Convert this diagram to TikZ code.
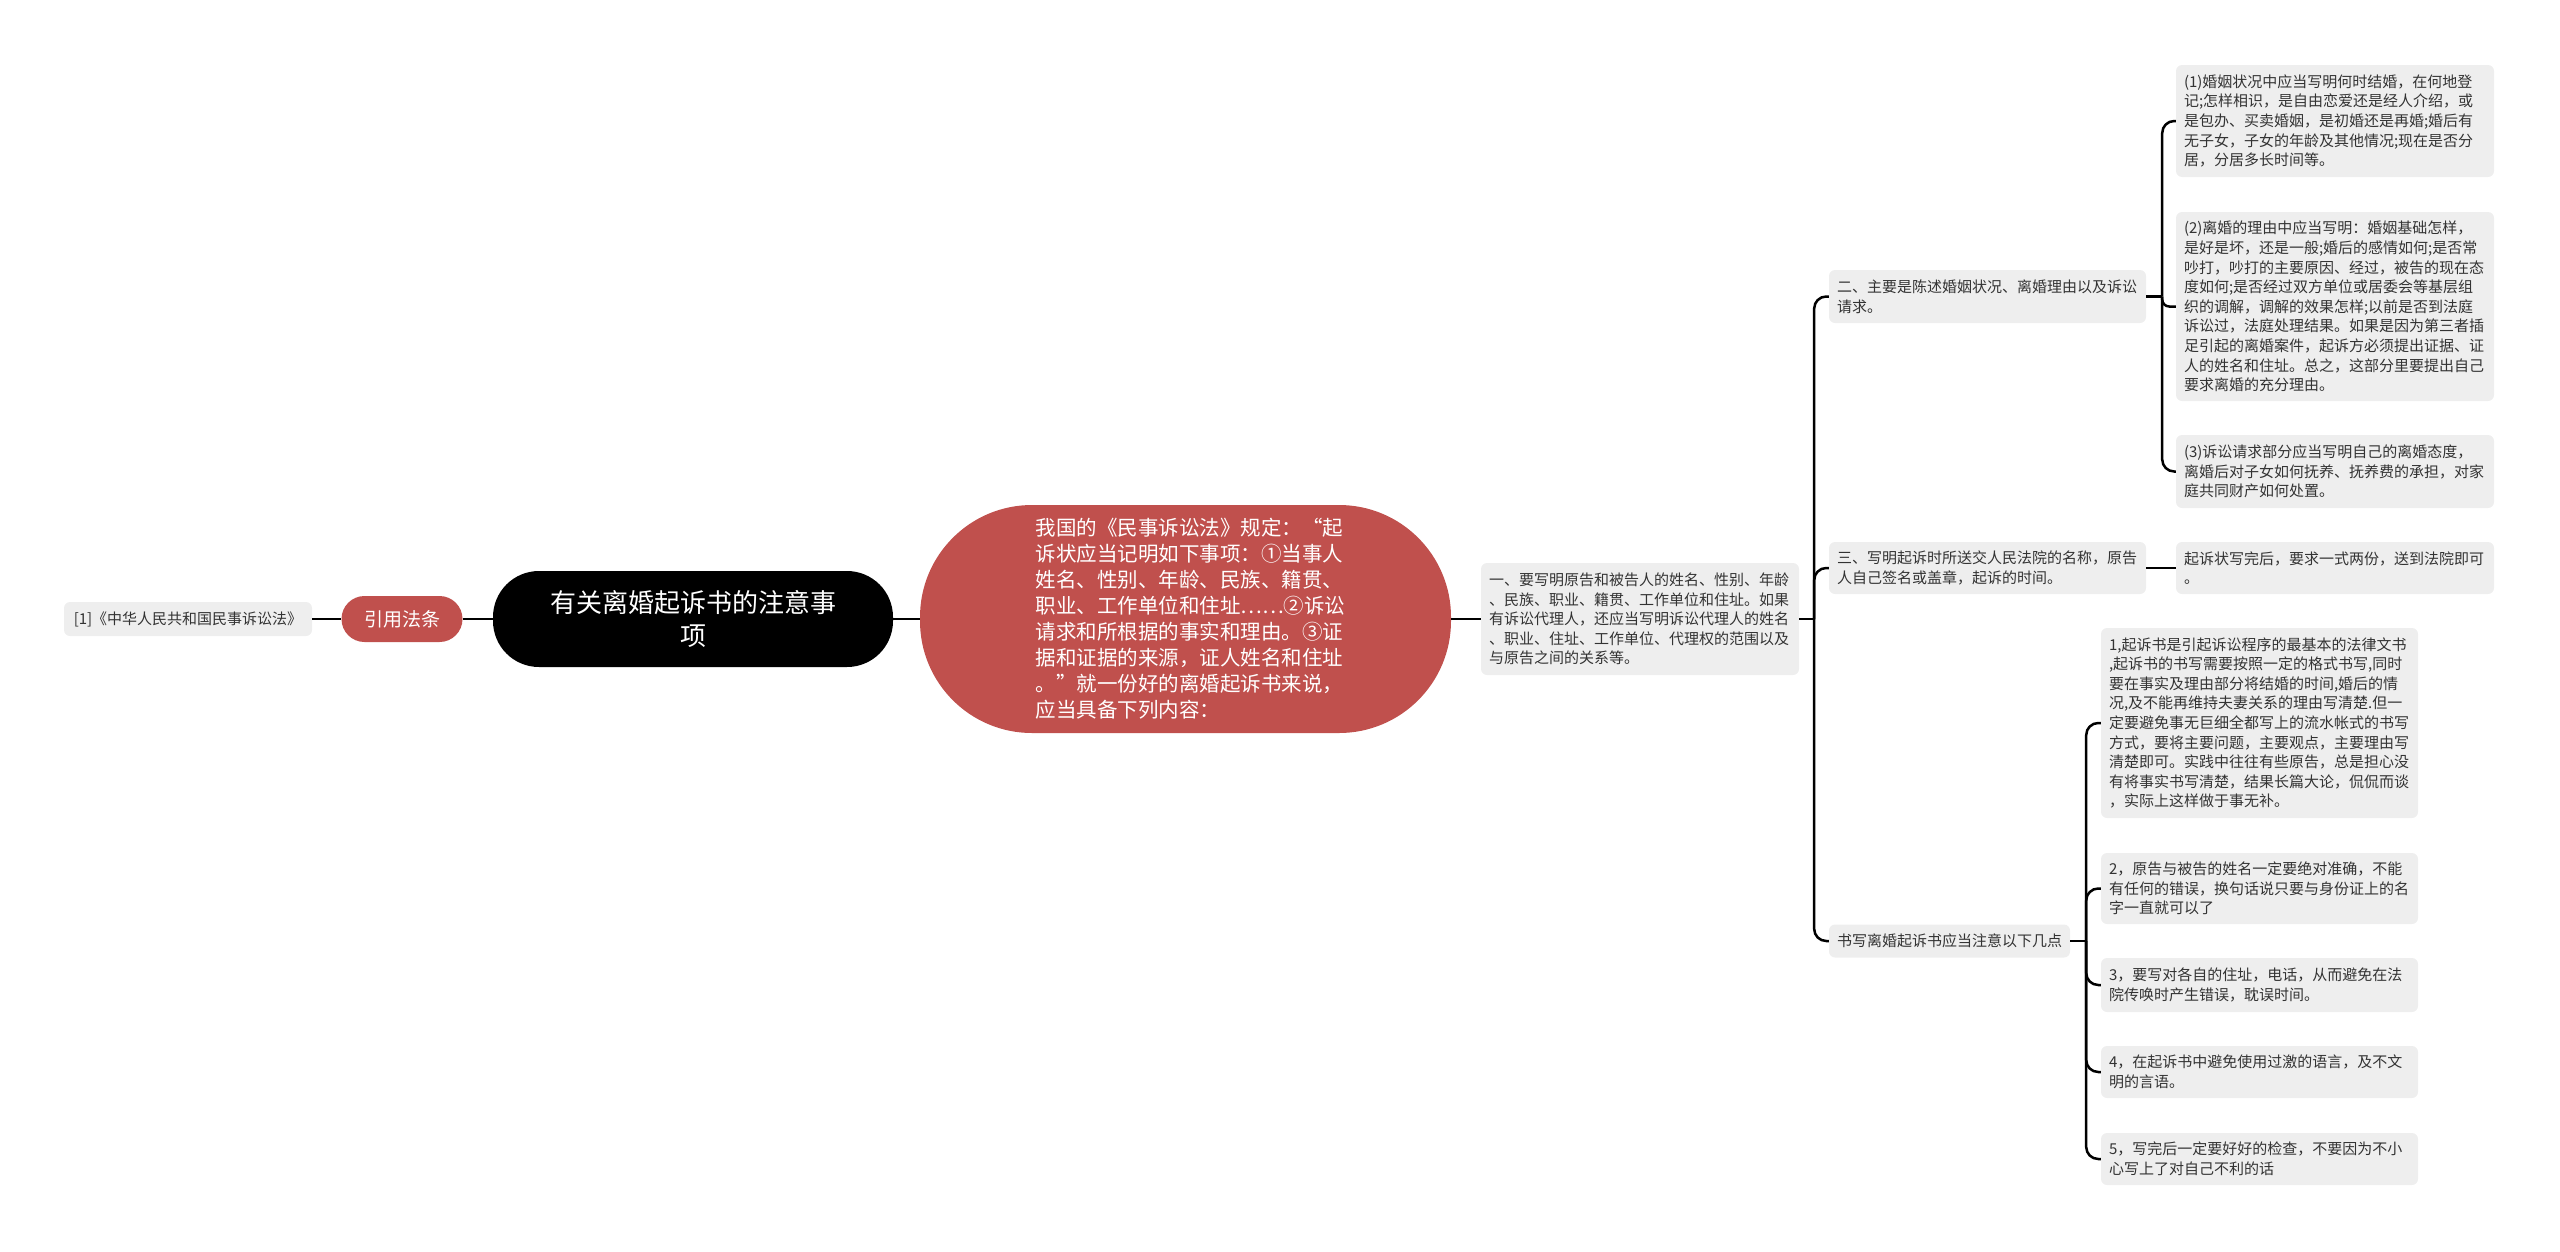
\documentclass[tikz,border=0pt]{standalone}
\usepackage{fontspec}
\setmainfont{Noto Sans CJK SC}
\usetikzlibrary{calc}
\definecolor{redc}{HTML}{C0504D}
\definecolor{leafc}{HTML}{EEEEEE}
\definecolor{txt}{HTML}{333333}
\begin{document}
\begin{tikzpicture}[x=1pt,y=-1pt,
  leaf/.style n args={2}{fill=leafc, rounded corners=6, inner sep=0pt, text=txt,
     font=\fontsize{15}{19.6}\selectfont, align=left,
     minimum width=#1, minimum height=#2, text width=#1-16},
  conn/.style={draw=black, line width=2.5pt},
  elbow/.style={conn, rounded corners=12}
]
\useasboundingbox (0,0) rectangle (2560,1251);

% left side
\node[fill=leafc, rounded corners=6, inner sep=0pt, text=txt, font=\fontsize{15}{19.6}\selectfont,
  minimum width=248, minimum height=34] (ref) at (188,619) {[1]《中华人民共和国民事诉讼法》};
\node[fill=redc, rounded corners=23, inner sep=0pt, text=white, font=\fontsize{19}{24}\selectfont,
  minimum width=121, minimum height=46] (yy) at (402,619) {引用法条};
\node[fill=black, rounded corners=46, inner sep=0pt, text=white, font=\fontsize{26}{33}\selectfont,
  minimum width=400, minimum height=96, text width=300, align=center] (root) at (693,619)
  {有关离婚起诉书的注意事\\项};
\node[fill=redc, rounded corners=112, inner sep=0pt, text=white, font=\fontsize{20.5}{26}\selectfont,
  minimum width=531, minimum height=228, text width=300, align=left] (red) at (1185.5,619)
  {我国的《民事诉讼法》规定：“起\\诉状应当记明如下事项：①当事人\\姓名、性别、年龄、民族、籍贯、\\职业、工作单位和住址……②诉讼\\请求和所根据的事实和理由。③证\\据和证据的来源，证人姓名和住址\\。”就一份好的离婚起诉书来说，\\应当具备下列内容：};

% level 1
\node[leaf={318}{112}] (yi) at (1640,619)
  {一、要写明原告和被告人的姓名、性别、年龄\\、民族、职业、籍贯、工作单位和住址。如果\\有诉讼代理人，还应当写明诉讼代理人的姓名\\、职业、住址、工作单位、代理权的范围以及\\与原告之间的关系等。};

% level 2
\node[leaf={317}{53}] (er) at (1987.5,296.5)
  {二、主要是陈述婚姻状况、离婚理由以及诉讼\\请求。};
\node[leaf={317}{52}] (san) at (1987.5,568)
  {三、写明起诉时所送交人民法院的名称，原告\\人自己签名或盖章，起诉的时间。};
\node[leaf={241}{33}] (sx) at (1949.5,941)
  {书写离婚起诉书应当注意以下几点};

% level 3 (right of 二)
\node[leaf={318}{112}] (p1) at (2335,121)
  {(1)婚姻状况中应当写明何时结婚，在何地登\\记;怎样相识，是自由恋爱还是经人介绍，或\\是包办、买卖婚姻，是初婚还是再婚;婚后有\\无子女，子女的年龄及其他情况;现在是否分\\居，分居多长时间等。};
\node[leaf={318}{189}] (p2) at (2335,306.5)
  {(2)离婚的理由中应当写明：婚姻基础怎样，\\是好是坏，还是一般;婚后的感情如何;是否常\\吵打，吵打的主要原因、经过，被告的现在态\\度如何;是否经过双方单位或居委会等基层组\\织的调解，调解的效果怎样;以前是否到法庭\\诉讼过，法庭处理结果。如果是因为第三者插\\足引起的离婚案件，起诉方必须提出证据、证\\人的姓名和住址。总之，这部分里要提出自己\\要求离婚的充分理由。};
\node[leaf={318}{73}] (p3) at (2335,471.5)
  {(3)诉讼请求部分应当写明自己的离婚态度，\\离婚后对子女如何抚养、抚养费的承担，对家\\庭共同财产如何处置。};

% right of 三
\node[leaf={318}{52}] (qs) at (2335,568)
  {起诉状写完后，要求一式两份，送到法院即可\\。};

% right of 书写
\node[leaf={317}{190}] (q1) at (2259.5,723)
  {1,起诉书是引起诉讼程序的最基本的法律文书\\,起诉书的书写需要按照一定的格式书写,同时\\要在事实及理由部分将结婚的时间,婚后的情\\况,及不能再维持夫妻关系的理由写清楚.但一\\定要避免事无巨细全都写上的流水帐式的书写\\方式，要将主要问题，主要观点，主要理由写\\清楚即可。实践中往往有些原告，总是担心没\\有将事实书写清楚，结果长篇大论，侃侃而谈\\，实际上这样做于事无补。};
\node[leaf={317}{71}] (q2) at (2259.5,888.5)
  {2，原告与被告的姓名一定要绝对准确，不能\\有任何的错误，换句话说只要与身份证上的名\\字一直就可以了};
\node[leaf={317}{54}] (q3) at (2259.5,985)
  {3，要写对各自的住址，电话，从而避免在法\\院传唤时产生错误，耽误时间。};
\node[leaf={317}{52}] (q4) at (2259.5,1072)
  {4，在起诉书中避免使用过激的语言，及不文\\明的言语。};
\node[leaf={317}{52}] (q5) at (2259.5,1159)
  {5，写完后一定要好好的检查，不要因为不小\\心写上了对自己不利的话};

% connectors
\draw[conn] (ref.east) -- (yy.west);
\draw[conn] (yy.east) -- (root.west);
\draw[conn] (root.east) -- (red.west);
\draw[conn] (red.east) -- (yi.west);

\draw[conn] (yi.east) -- ++(15,0) coordinate (j1);
\draw[elbow] (j1) |- (er.west);
\draw[elbow] (j1) |- (san.west);
\draw[elbow] (j1) |- (sx.west);

\draw[conn] (er.east) -- ++(16,0) coordinate (j2);
\draw[elbow] (j2) |- (p1.west);
\draw[conn, rounded corners=7] (j2) |- (p2.west);
\draw[elbow] (j2) |- (p3.west);

\draw[conn] (san.east) -- (qs.west);

\draw[conn] (sx.east) -- ++(16,0) coordinate (j3);
\draw[elbow] (j3) |- (q1.west);
\draw[elbow] (j3) |- (q2.west);
\draw[elbow] (j3) |- (q3.west);
\draw[elbow] (j3) |- (q4.west);
\draw[elbow] (j3) |- (q5.west);
\end{tikzpicture}
\end{document}
